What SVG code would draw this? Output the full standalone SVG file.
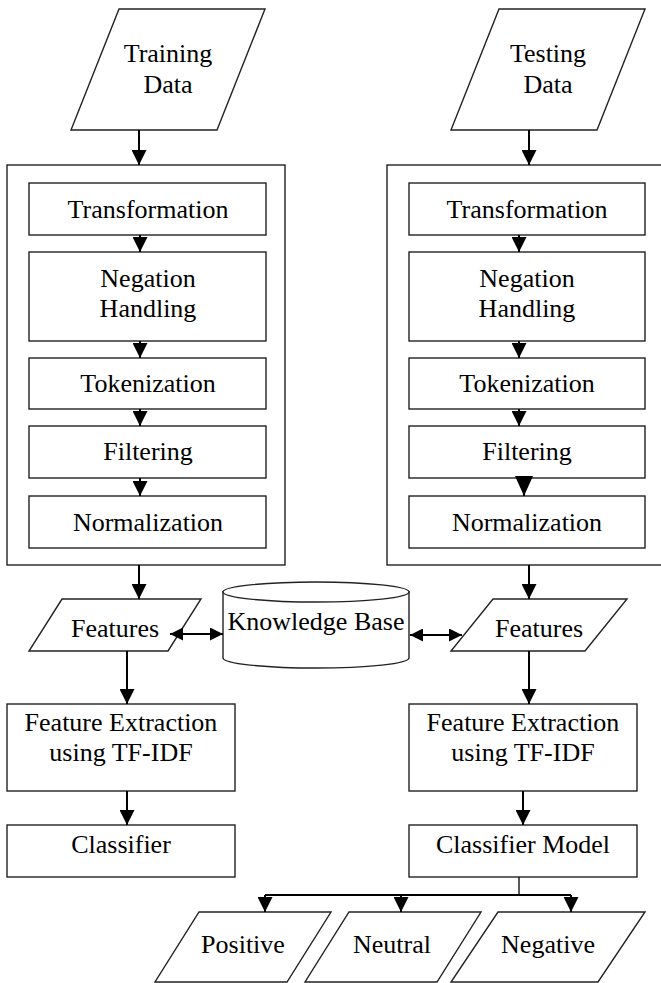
<svg xmlns="http://www.w3.org/2000/svg" width="661" height="983" viewBox="0 0 661 983">
<style>
.box{fill:#fff;stroke:#222;stroke-width:1.4}
.t{font-family:"Liberation Serif","Times New Roman",serif;font-size:26px;fill:#000;text-anchor:middle}
.c{stroke:#000;stroke-width:2;fill:none}
.thin{stroke:#000;stroke-width:1.3;fill:none}
</style>
<defs>
<marker id="ah" viewBox="0 0 15 15" refX="15" refY="7.5" markerWidth="15" markerHeight="15" markerUnits="userSpaceOnUse" orient="auto-start-reverse">
<path d="M0,0 L15,7.5 L0,15 Z" fill="#000"/>
</marker>
<marker id="ahs" viewBox="0 0 14 14" refX="14" refY="7" markerWidth="14" markerHeight="13" markerUnits="userSpaceOnUse" orient="auto-start-reverse">
<path d="M0,0 L14,7 L0,14 Z" fill="#000"/>
</marker>
<marker id="ahb" viewBox="0 0 20 18" refX="20" refY="9" markerWidth="20" markerHeight="18" markerUnits="userSpaceOnUse" orient="auto">
<path d="M0,0 L20,9 L0,18 Z" fill="#000"/>
</marker>
</defs>
<g id="training-data"><polygon class="box" points="119,9 265,9 217,130 71,130"/><text class="t" x="168" y="62">Training</text><text class="t" x="168" y="93">Data</text></g>
<g id="testing-data"><polygon class="box" points="499,9 645,9 597,130 451,130"/><text class="t" x="548" y="62">Testing</text><text class="t" x="548" y="93">Data</text></g>
<g id="preprocess-left"><rect class="box" x="7" y="165" width="278" height="400"/></g>
<g id="preprocess-right"><rect class="box" x="387" y="165" width="280" height="400"/></g>
<g id="transformation-left"><rect class="box" x="29" y="183" width="237" height="52"/><text class="t" x="148" y="218">Transformation</text></g>
<g id="negation-left"><rect class="box" x="29" y="252" width="237" height="89"/><text class="t" x="148" y="287">Negation</text><text class="t" x="148" y="317">Handling</text></g>
<g id="tokenization-left"><rect class="box" x="29" y="358" width="237" height="51"/><text class="t" x="148" y="392">Tokenization</text></g>
<g id="filtering-left"><rect class="box" x="29" y="426" width="237" height="52"/><text class="t" x="148" y="460">Filtering</text></g>
<g id="normalization-left"><rect class="box" x="29" y="496" width="237" height="52"/><text class="t" x="148" y="531">Normalization</text></g>
<g id="transformation-right"><rect class="box" x="409" y="183" width="236" height="52"/><text class="t" x="527" y="218">Transformation</text></g>
<g id="negation-right"><rect class="box" x="409" y="252" width="236" height="89"/><text class="t" x="527" y="287">Negation</text><text class="t" x="527" y="317">Handling</text></g>
<g id="tokenization-right"><rect class="box" x="409" y="358" width="236" height="51"/><text class="t" x="527" y="392">Tokenization</text></g>
<g id="filtering-right"><rect class="box" x="409" y="426" width="236" height="52"/><text class="t" x="527" y="460">Filtering</text></g>
<g id="normalization-right"><rect class="box" x="409" y="496" width="236" height="52"/><text class="t" x="527" y="531">Normalization</text></g>
<g id="features-left"><polygon class="box" points="62,599 201,599 168,651 29,651"/><text class="t" x="115" y="637">Features</text></g>
<g id="features-right"><polygon class="box" points="493,599 627,599 585,651 451,651"/><text class="t" x="539" y="637">Features</text></g>
<g id="knowledge-base"><path class="box" d="M223,592 L223,658 A93,10 0 0 0 409,658 L409,592 Z"/><ellipse class="box" cx="316" cy="592" rx="93" ry="10"/><text class="t" x="316" y="630">Knowledge Base</text></g>
<g id="fe-left"><rect class="box" x="7" y="704" width="228" height="87"/><text class="t" x="121" y="731">Feature Extraction</text><text class="t" x="121" y="761">using TF-IDF</text></g>
<g id="fe-right"><rect class="box" x="409" y="704" width="228" height="87"/><text class="t" x="523" y="731">Feature Extraction</text><text class="t" x="523" y="761">using TF-IDF</text></g>
<g id="classifier"><rect class="box" x="7" y="825" width="228" height="52"/><text class="t" x="121" y="853">Classifier</text></g>
<g id="classifier-model"><rect class="box" x="409" y="825" width="228" height="52"/><text class="t" x="523" y="853">Classifier Model</text></g>
<g id="positive"><polygon class="box" points="199,912 331,912 287,982 155,982"/><text class="t" x="243" y="953">Positive</text></g>
<g id="neutral"><polygon class="box" points="349,912 481,912 437,982 305,982"/><text class="t" x="392" y="953">Neutral</text></g>
<g id="negative"><polygon class="box" points="498,912 645,912 598,982 451,982"/><text class="t" x="548" y="953">Negative</text></g>
<g id="connectors">
<line class="c" x1="139" y1="130" x2="139" y2="165" marker-end="url(#ah)"/>
<line class="c" x1="529" y1="130" x2="529" y2="165" marker-end="url(#ah)"/>
<line class="c" x1="140" y1="235" x2="140" y2="252" marker-end="url(#ah)"/>
<line class="c" x1="140" y1="341" x2="140" y2="358" marker-end="url(#ah)"/>
<line class="c" x1="140" y1="409" x2="140" y2="426" marker-end="url(#ah)"/>
<line class="c" x1="140" y1="478" x2="140" y2="496" marker-end="url(#ah)"/>
<line class="c" x1="519" y1="235" x2="519" y2="252" marker-end="url(#ah)"/>
<line class="c" x1="519" y1="341" x2="519" y2="358" marker-end="url(#ah)"/>
<line class="c" x1="519" y1="409" x2="519" y2="426" marker-end="url(#ah)"/>
<line class="c" x1="524" y1="476" x2="524" y2="496" marker-end="url(#ahb)"/>
<line class="c" x1="139" y1="565" x2="139" y2="599" marker-end="url(#ah)"/>
<line class="c" x1="529" y1="565" x2="529" y2="599" marker-end="url(#ah)"/>
<line class="c" x1="170" y1="634" x2="223" y2="634" marker-start="url(#ahs)" marker-end="url(#ahs)"/>
<line class="c" x1="410" y1="635" x2="462" y2="635" marker-start="url(#ahs)" marker-end="url(#ahs)"/>
<line class="c" x1="127" y1="651" x2="127" y2="704" marker-end="url(#ah)"/>
<line class="c" x1="529" y1="651" x2="529" y2="704" marker-end="url(#ah)"/>
<line class="c" x1="127" y1="791" x2="127" y2="825" marker-end="url(#ah)"/>
<line class="c" x1="523" y1="791" x2="523" y2="825" marker-end="url(#ah)"/>
<line class="thin" x1="519" y1="877" x2="519" y2="895"/>
<line class="c" x1="265" y1="895" x2="571" y2="895"/>
<line class="c" x1="265" y1="895" x2="265" y2="912" marker-end="url(#ah)"/>
<line class="c" x1="401" y1="895" x2="401" y2="912" marker-end="url(#ah)"/>
<line class="c" x1="571" y1="895" x2="571" y2="912" marker-end="url(#ah)"/>
</g>
</svg>
